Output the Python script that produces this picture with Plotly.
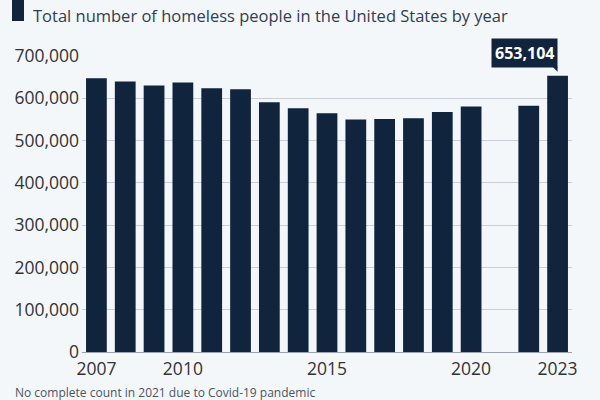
import plotly.graph_objects as go

years = [2007, 2008, 2009, 2010, 2011, 2012, 2013, 2014, 2015, 2016, 2017, 2018, 2019, 2020, 2022, 2023]
homeless = [647258, 639784, 630227, 637077, 623788, 621553, 590364, 576450, 564708,
            549928, 550996, 552830, 567715, 580466, 582462, 653104]
x_ticks = [2007, 2010, 2015, 2020, 2023]
y_ticks = [0, 100000, 200000, 300000, 400000, 500000, 600000, 700000]
title_text = "Total number of homeless people in the United States by year"
note_text = "No complete count in 2021 due to Covid-19 pandemic"
highlight_label = "653,104"

BAR = "#10243e"
BG = "#f4f7fa"
GRID = "#c9ced6"
FONT = "Open Sans"

fig = go.Figure(go.Bar(x=years, y=homeless, marker_color=BAR, marker_line_width=0, width=0.72))

fig.update_layout(
    width=600, height=400,
    margin=dict(l=82, r=28, t=56, b=48),
    paper_bgcolor=BG, plot_bgcolor=BG,
    showlegend=False,
    font=dict(family=FONT, size=17, color="#333333"),
    xaxis=dict(range=[2006.5, 2023.5], tickvals=x_ticks, ticktext=[str(v) for v in x_ticks],
               showgrid=False, zeroline=False, showline=False, ticks="",
               ticklabelstandoff=4,
               tickfont=dict(size=17.5, color="#333333")),
    yaxis=dict(range=[0, 700000], tickvals=y_ticks,
               ticktext=[f"{v:,}" for v in y_ticks],
               showgrid=True, gridcolor=GRID, gridwidth=1, zeroline=True,
               zerolinecolor="#9aa3ad", zerolinewidth=1, ticks="",
               ticklabelstandoff=2,
               tickfont=dict(size=17.5, color="#333333")),
)

# title marker square
fig.add_shape(type="rect", xref="paper", yref="paper", xsizemode="pixel", ysizemode="pixel",
              xanchor=0, yanchor=1, x0=-70, x1=-58, y0=35, y1=58,
              fillcolor=BAR, line_width=0, layer="above")
fig.add_annotation(text=title_text, xref="paper", yref="paper", x=0, y=1,
                   xanchor="left", yanchor="middle", xshift=-51, yshift=41,
                   showarrow=False, font=dict(family=FONT, size=16.5, color="#2f3e52"))
fig.add_annotation(text=note_text, xref="paper", yref="paper", x=0, y=0,
                   xanchor="left", yanchor="middle", xshift=-69, yshift=-40,
                   showarrow=False, font=dict(family=FONT, size=12, color="#4a5562"))

# value callout
fig.add_annotation(text="<b>" + highlight_label + "</b>", x=years[-1], y=homeless[-1],
                   xanchor="right", yanchor="bottom", xshift=0, yshift=8,
                   showarrow=False, bgcolor=BAR, borderpad=3,
                   font=dict(family=FONT, size=16, color="white"))
fig.add_shape(type="path", xref="x", yref="y", xsizemode="pixel", ysizemode="pixel",
              xanchor=years[-1], yanchor=homeless[-1],
              path="M -5,9 L 0,9 L 0,4 Z", fillcolor=BAR, line_width=0)

fig.write_html("out.html")
